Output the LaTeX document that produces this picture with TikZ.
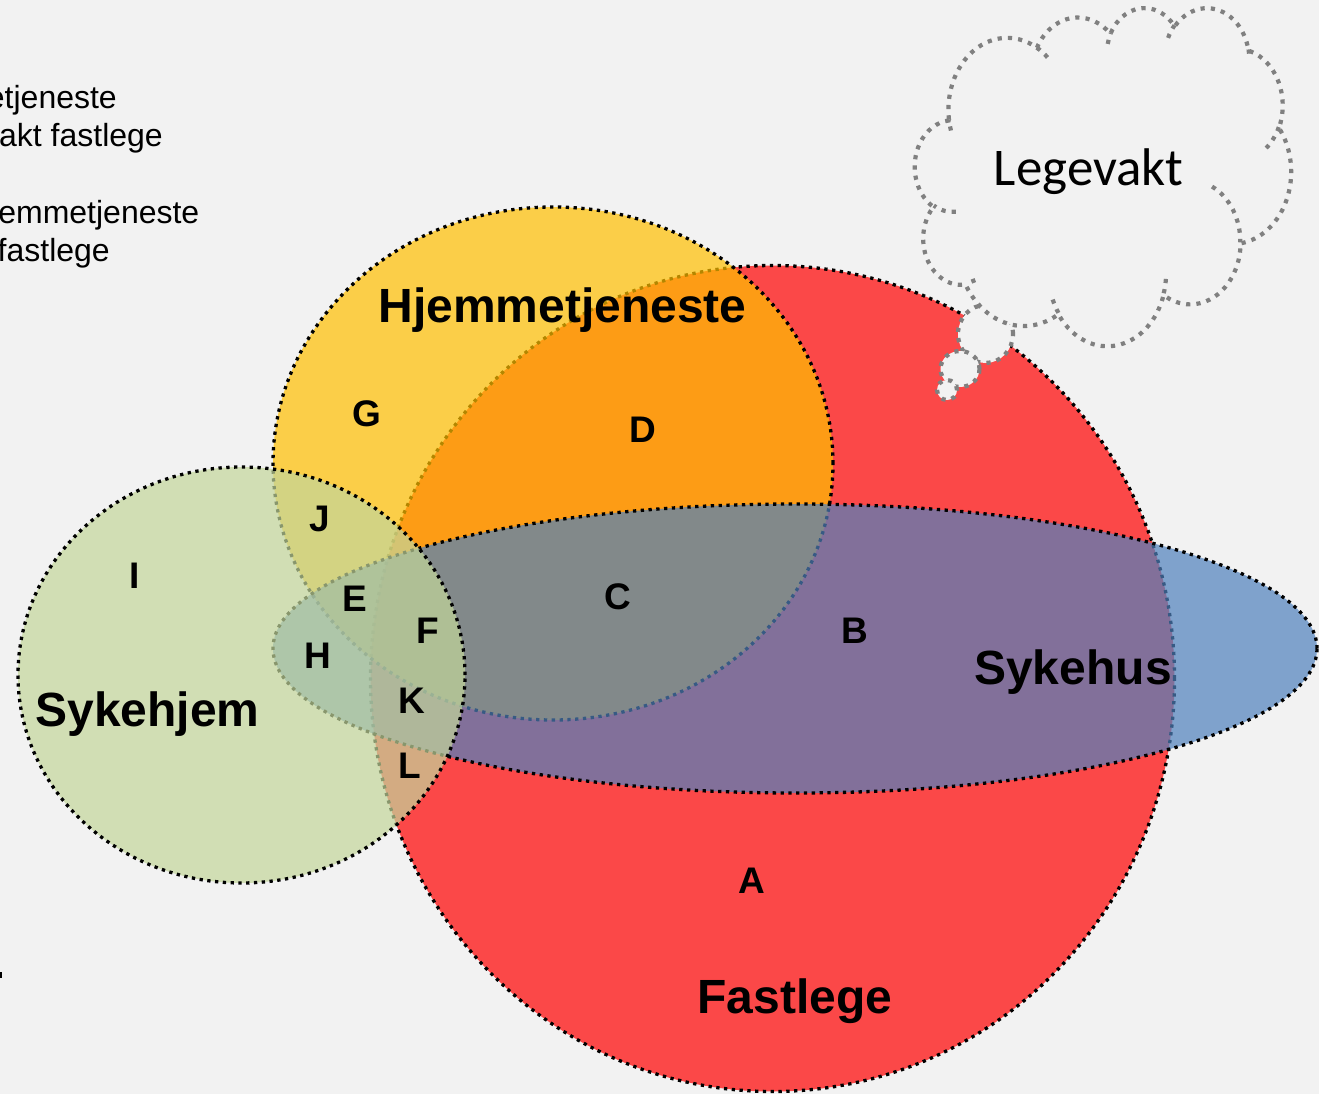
\documentclass[tikz,border=0pt]{standalone}
\usepackage{fontspec}
\setmainfont{Liberation Sans}
\newfontfamily\carlito{Carlito}
\definecolor{bgc}{HTML}{F2F2F2}
\definecolor{cred}{HTML}{FF0000}
\definecolor{cyel}{HTML}{FFC000}
\definecolor{cblu}{HTML}{4F81BD}
\definecolor{cgrn}{HTML}{C3D69B}
\definecolor{cgry}{HTML}{808080}
% convert an OOXML "visual" angle into the parametric angle of an ellipse
\newcommand\oconv[4]{%
  \pgfmathparse{atan2((#2)*sin(#4),(#3)*cos(#4))}%
  \let\oconvT\pgfmathresult
  \pgfmathparse{\oconvT+360*round(((#4)-\oconvT)/360)}%
  \expandafter\xdef\csname #1\endcsname{\pgfmathresult}%
}
\newcommand\oarc[5]{\oconv{cS#1}{#2}{#3}{#4}\oconv{cE#1}{#2}{#3}{(#4)+(#5)}}
\begin{document}
\begin{tikzpicture}[x=1pt,y=-1pt,
  venn/.style={fill opacity=0.7, draw=black, line width=3.3pt, dash pattern=on 3.3pt off 4.5pt},
  bigl/.style={font=\fontsize{48}{57}\selectfont\bfseries, inner sep=0pt, anchor=base},
  lett/.style={font=\fontsize{37}{44}\selectfont\bfseries, inner sep=0pt, anchor=base},
  sidet/.style={font=\fontsize{32}{38}\selectfont, inner sep=0pt, anchor=base east},
  cloudline/.style={draw=cgry, line width=4.2pt, dash pattern=on 4.2pt off 6.1pt},
]
\path[use as bounding box, fill=bgc] (0,0) rectangle (1319,1094);
\clip (0,0) rectangle (1319,1094);

% side text (cut at the left edge)
\node[sidet] (t1) at (117,108.5) {etjeneste};
\node[sidet] (t2) at (163,146.5) {akt fastlege};
\node[sidet] (t3) at (199.5,223.5) {emmetjeneste};
\node[sidet] (t4) at (110,261.5) {fastlege};
\fill (0,972) rectangle (2,978);

% Venn sets
\path[venn, fill=cred] (772.5,678.5) ellipse [x radius=402pt, y radius=413pt];
\path[venn, fill=cyel] (553,463.5) ellipse [x radius=280pt, y radius=256.5pt];
\path[venn, fill=cblu] (795,648.5) ellipse [x radius=522pt, y radius=144.5pt];
\path[venn, fill=cgrn] (241.5,675) ellipse [x radius=223.5pt, y radius=208pt];

% labels
\node[bigl] (hj) at (562.5,322) {Hjemmetjeneste};
\node[bigl] (sh) at (147.5,726) {Sykehjem};
\node[bigl] (sy) at (1073,684) {Sykehus};
\node[bigl] (fa) at (795,1013) {Fastlege};

\node[lett] (G) at (367,426) {G};
\node[lett] (D) at (643,442) {D};
\node[lett] (J) at (320,531) {J};
\node[lett] (I) at (135,588) {I};
\node[lett] (E) at (355,611) {E};
\node[lett] (C) at (618,609) {C};
\node[lett] (F) at (428,643) {F};
\node[lett] (B) at (855,643) {B};
\node[lett] (H) at (318,668) {H};
\node[lett] (K) at (412,713) {K};
\node[lett] (L) at (410,778) {L};
\node[lett] (A) at (752,893) {A};

% callout bubbles
\path[cloudline, fill=bgc] (985.5,334) ellipse [x radius=27.5pt, y radius=29pt];
\path[cloudline, fill=bgc] (960,369) ellipse [x radius=19.5pt, y radius=18pt];
\path[cloudline, fill=bgc] (947,390) ellipse [x radius=10pt, y radius=10pt];

% cloud (OOXML cloud geometry, frame 4320 x 4320)
\oarc{A}{675.3}{919.0}{-190.48748}{123.78053}
\oarc{B}{533.3}{726.7}{-144.10238}{89.94523}
\oarc{C}{436.5}{594.5}{-145.80792}{99.72302}
\oarc{D}{485.7}{659.5}{-130.98607}{117.24173}
\oarc{E}{533.3}{727.3}{-78.70888}{109.02692}
\oarc{F}{677.5}{922.0}{-46.26725}{130.26900}
\oarc{G}{578.5}{786.7}{0.62502}{114.03333}
\oarc{H}{675.2}{921.5}{22.45160}{115.17255}
\oarc{I}{772.0}{1054.3}{66.24263}{75.71102}
\oarc{J}{436.0}{591.8}{-274.94208}{146.73557}
\oarc{K}{434.5}{594.5}{-246.82850}{152.51885}
\oarc{a}{434.5}{594.5}{86.742}{26.4295}
\oarc{b}{436.0}{591.8}{73.61047}{11.44747}
\oarc{c}{675.2}{921.5}{137.62415}{14.0811}
\oarc{d}{675.2}{921.5}{6.45327}{15.99835}
\oarc{e}{578.5}{786.7}{-70.29235}{70.91737}
\oarc{f}{533.3}{727.3}{30.31803}{27.7515}
\oarc{g}{485.7}{659.5}{-13.74433}{14.8589}
\oarc{h}{485.7}{659.5}{-149.18145}{18.19537}
\oarc{i}{436.5}{594.5}{-163.49427}{17.68635}
\oarc{j}{675.3}{919.0}{-66.70695}{12.31935}
\oarc{k}{675.3}{919.0}{157.65435}{11.85817}
\begin{scope}[shift={(915,7)}, x=0.087037pt, y=-0.078241pt]
\path[cloudline, fill=bgc] (390,1437)
  arc[start angle=\cSA, end angle=\cEA, x radius=675.3, y radius=919.0]
  arc[start angle=\cSB, end angle=\cEB, x radius=533.3, y radius=726.7]
  arc[start angle=\cSC, end angle=\cEC, x radius=436.5, y radius=594.5]
  arc[start angle=\cSD, end angle=\cED, x radius=485.7, y radius=659.5]
  arc[start angle=\cSE, end angle=\cEE, x radius=533.3, y radius=727.3]
  arc[start angle=\cSF, end angle=\cEF, x radius=677.5, y radius=922.0]
  arc[start angle=\cSG, end angle=\cEG, x radius=578.5, y radius=786.7]
  arc[start angle=\cSH, end angle=\cEH, x radius=675.2, y radius=921.5]
  arc[start angle=\cSI, end angle=\cEI, x radius=772.0, y radius=1054.3]
  arc[start angle=\cSJ, end angle=\cEJ, x radius=436.0, y radius=591.8]
  arc[start angle=\cSK, end angle=\cEK, x radius=434.5, y radius=594.5]
  -- cycle;
\path[cloudline]
  (469.3,2617.7) arc[start angle=\cSa, end angle=\cEa, x radius=434.5, y radius=594.5]
  (692.8,3489.9) arc[start angle=\cSb, end angle=\cEb, x radius=436.0, y radius=591.8]
  (1647.8,3909.0) arc[start angle=\cSc, end angle=\cEc, x radius=675.2, y radius=921.5]
  (2882.7,3475.1) arc[start angle=\cSd, end angle=\cEd, x radius=675.2, y radius=921.5]
  (3412.9,2295.4) arc[start angle=\cSe, end angle=\cEe, x radius=578.5, y radius=786.7]
  (4179.8,1535.4) arc[start angle=\cSf, end angle=\cEf, x radius=533.3, y radius=727.3]
  (3832.4,542.6) arc[start angle=\cSg, end angle=\cEg, x radius=485.7, y radius=659.5]
  (2907.8,395.2) arc[start angle=\cSh, end angle=\cEh, x radius=485.7, y radius=659.5]
  (2214.1,472.0) arc[start angle=\cSi, end angle=\cEi, x radius=436.5, y radius=594.5]
  (1400.0,519.2) arc[start angle=\cSj, end angle=\cEj, x radius=675.3, y radius=919.0]
  (412.7,1578.9) arc[start angle=\cSk, end angle=\cEk, x radius=675.3, y radius=919.0];
\end{scope}
\node[font=\carlito\fontsize{53}{63}\selectfont, inner sep=0pt, anchor=base] (lv) at (1088.5,185.5) {Legevakt};
\end{tikzpicture}
\end{document}
